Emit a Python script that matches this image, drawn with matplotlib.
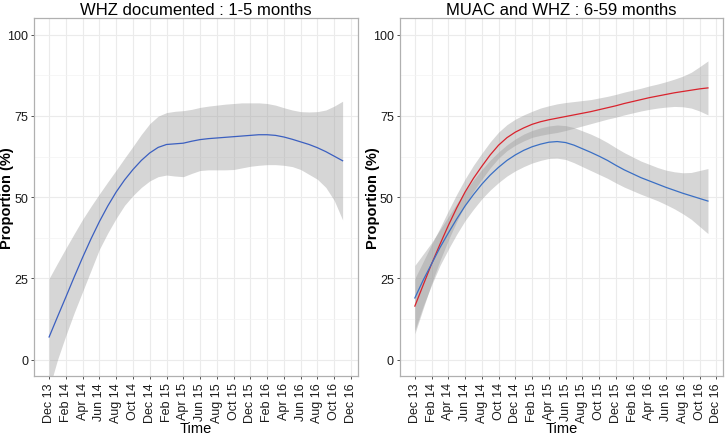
import matplotlib
matplotlib.use('Agg')
import matplotlib.pyplot as plt
import numpy as np

plt.rcParams['font.family'] = ['Liberation Sans', 'DejaVu Sans']

# months since Dec 2013
months = list(range(36))
tick_pos = list(range(0, 37, 2))
tick_labels = ['Dec 13', 'Feb 14', 'Apr 14', 'Jun 14', 'Aug 14', 'Oct 14',
               'Dec 14', 'Feb 15', 'Apr 15', 'Jun 15', 'Aug 15', 'Oct 15',
               'Dec 15', 'Feb 16', 'Apr 16', 'Jun 16', 'Aug 16', 'Oct 16', 'Dec 16']

# left panel: WHZ documented, 1-5 months
whz_young = [7, 13.2, 19.3, 25.5, 31.5, 37.2, 42.5, 47.3, 51.6, 55.3, 58.5, 61.3, 63.6, 65.3,
             66.2, 66.4, 66.6, 67.2, 67.7, 68, 68.2, 68.4, 68.6, 68.8, 69, 69.2, 69.2, 69,
             68.5, 67.8, 67, 66.2, 65.2, 64, 62.6, 61.2]
whz_young_hi = [25, 29.7, 34.3, 38.8, 43.2, 47.2, 51, 54.7, 58.3, 62, 65.6, 69.3, 72.6, 74.9,
                76, 76.4, 76.6, 77, 77.6, 78, 78.3, 78.6, 78.8, 79, 79, 79, 78.8, 78.3, 77.5,
                76.8, 76.3, 76.2, 76.3, 76.8, 78, 79.5]
whz_young_lo = [-9, 0, 7.5, 14.5, 21, 27.5, 34, 39, 43.5, 47.5, 50.5, 53, 55, 56.3, 56.8,
                56.5, 56.3, 57.3, 58.2, 58.4, 58.4, 58.4, 58.5, 59, 59.5, 59.8, 60, 60, 59.8,
                59.4, 58.5, 57, 55.5, 53, 49, 43]

# right panel: MUAC and WHZ, 6-59 months
muac = [16.5, 23, 29.5, 35.5, 41.3, 46.7, 51.6, 55.8, 59.5, 63, 66, 68.3, 70, 71.3, 72.4,
        73.2, 73.8, 74.3, 74.8, 75.3, 75.8, 76.3, 76.9, 77.5, 78.1, 78.8, 79.4, 80, 80.6,
        81.1, 81.6, 82.1, 82.5, 82.9, 83.3, 83.6]
muac_se = [8.5, 7.2, 6, 5, 4.5, 4.2, 4, 4, 4, 4, 4, 4, 4, 4, 4, 4.2, 4.3, 4.4, 4.3, 4.1, 3.9,
           3.7, 3.6, 3.5, 3.5, 3.5, 3.5, 3.5, 3.6, 3.7, 3.9, 4.2, 4.7, 5.5, 6.8, 8.3]
whz_old = [19, 24.5, 29.5, 34.5, 39, 43.3, 47.3, 50.8, 54, 56.8, 59.2, 61.3, 63, 64.4, 65.5,
           66.3, 66.9, 67.1, 66.8, 66, 64.9, 63.8, 62.6, 61.3, 59.8, 58.4, 57.2, 56, 55, 54,
           53, 52.1, 51.2, 50.4, 49.6, 48.8]
whz_old_se = [10, 8, 6.5, 5.5, 5, 4.7, 4.5, 4.5, 4.5, 4.6, 4.7, 4.8, 4.9, 5, 5, 5, 5, 5.1,
              5.2, 5.4, 5.5, 5.6, 5.6, 5.5, 5.4, 5.3, 5.2, 5.1, 5.1, 5.1, 5.3, 5.7, 6.3, 7.2,
              8.6, 10]

fig = plt.figure(figsize=(7.26, 4.39), dpi=100)
ax1 = fig.add_axes([0.0472, 0.1412, 0.4455, 0.8148])
ax2 = fig.add_axes([0.5510, 0.1412, 0.4449, 0.8148])

def style(ax, title):
    ax.set_xlim(-1.77, 36.8)
    ax.set_ylim(-5, 105)
    ax.set_xticks(tick_pos)
    ax.set_xticklabels(tick_labels, rotation=90, fontsize=9, color='#1a1a1a')
    ax.set_yticks([0, 25, 50, 75, 100])
    ax.set_yticks([12.5, 37.5, 62.5, 87.5], minor=True)
    ax.tick_params(axis='y', which='minor', length=0)
    ax.tick_params(axis='both', which='major', length=2.5, width=0.6, colors='#333333', pad=2)
    ax.tick_params(axis='x', labelsize=9)
    ax.tick_params(axis='y', labelsize=9)
    for lab in ax.get_yticklabels() + ax.get_xticklabels():
        lab.set_color('#1a1a1a')
    ax.grid(True, which='major', color='#ebebeb', linewidth=0.8)
    ax.grid(True, which='minor', axis='y', color='#f3f3f3', linewidth=0.5)
    ax.set_axisbelow(True)
    for s in ax.spines.values():
        s.set_color('#b0b0b0')
        s.set_linewidth(0.9)
    ax.set_title(title, fontsize=12, pad=3)
    ax.set_xlabel('Time', fontsize=10.5)
    ax.xaxis.set_label_coords(0.5, -0.127)
    ax.set_ylabel('Proportion (%)', fontsize=10.5, fontweight='bold')
    ax.yaxis.set_label_coords(-0.062, 0.5)

m = np.array(months)

ax1.fill_between(m, whz_young_lo, whz_young_hi, color='#999999', alpha=0.4, linewidth=0)
ax1.plot(m, whz_young, color='#3b5fc0', linewidth=0.9)
style(ax1, 'WHZ documented : 1-5 months')

mu = np.array(muac)
wo = np.array(whz_old)
ax2.fill_between(m, mu - np.array(muac_se), mu + np.array(muac_se), color='#999999',
                 alpha=0.4, linewidth=0)
ax2.fill_between(m, wo - np.array(whz_old_se), wo + np.array(whz_old_se), color='#999999',
                 alpha=0.4, linewidth=0)
ax2.plot(m, muac, color='#d9232d', linewidth=0.9)
ax2.plot(m, whz_old, color='#3a6fc4', linewidth=0.9)
style(ax2, 'MUAC and WHZ : 6-59 months')

fig.savefig('out.png', dpi=100)
